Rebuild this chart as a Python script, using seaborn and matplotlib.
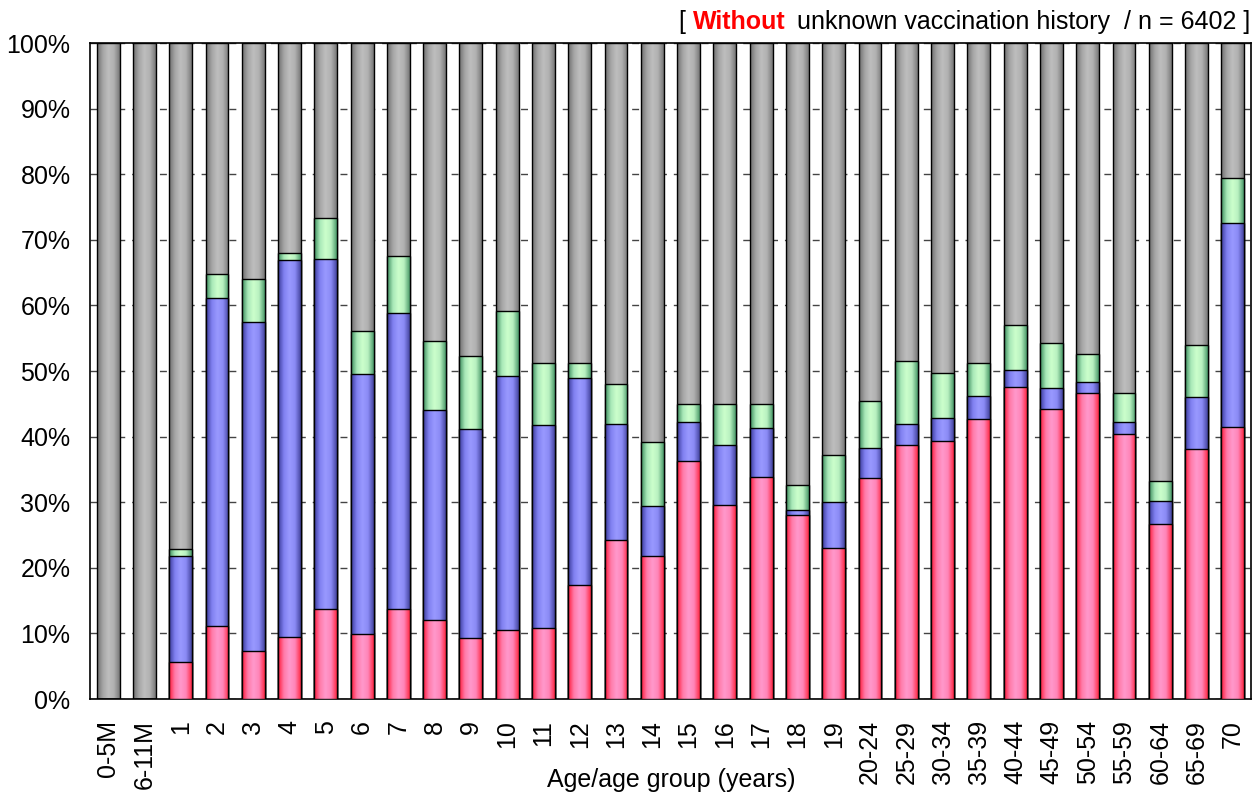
import numpy as np
import pandas as pd
import matplotlib
matplotlib.use("Agg")
import matplotlib.pyplot as plt
from matplotlib.colors import LinearSegmentedColormap
import seaborn as sns

# Age groups and vaccination-history shares (%), bottom to top
ages = ["0-5M", "6-11M", "1", "2", "3", "4", "5", "6", "7", "8", "9", "10",
        "11", "12", "13", "14", "15", "16", "17", "18", "19", "20-24", "25-29",
        "30-34", "35-39", "40-44", "45-49", "50-54", "55-59", "60-64", "65-69", "70"]
red = [0, 0, 5.7, 11.1, 7.3, 9.4, 13.8, 9.9, 13.7, 12.1, 9.3, 10.6,
       10.8, 17.4, 24.3, 21.8, 36.3, 29.6, 33.8, 28.0, 23.0, 33.7, 38.8,
       39.4, 42.7, 47.6, 44.2, 46.7, 40.4, 26.7, 38.1, 41.4]
blue = [0, 0, 16.1, 50.1, 50.2, 57.6, 53.3, 39.6, 45.1, 31.9, 31.9, 38.7,
        31.0, 31.5, 17.6, 7.6, 6.0, 9.2, 7.5, 0.8, 7.1, 4.5, 3.2,
        3.4, 3.5, 2.6, 3.2, 1.7, 1.8, 3.5, 8.0, 31.1]
green = [0, 0, 1.1, 3.6, 6.5, 1.0, 6.3, 6.6, 8.7, 10.6, 11.1, 9.9,
         9.4, 2.4, 6.1, 9.8, 2.7, 6.1, 3.7, 3.8, 7.1, 7.2, 9.6,
         6.9, 5.0, 6.8, 6.9, 4.2, 4.4, 3.0, 7.9, 6.9]

df = pd.DataFrame({"age": ages, "red": red, "blue": blue, "green": green})
df["top_red"] = df["red"]
df["top_blue"] = df["top_red"] + df["blue"]
df["top_green"] = df["top_blue"] + df["green"]
df["top_grey"] = 100.0

sns.set_style("white")
plt.rcParams['font.family'] = ['Liberation Sans', 'DejaVu Sans']
plt.rcParams['text.color'] = 'black'
plt.rcParams['xtick.color'] = 'black'
plt.rcParams['ytick.color'] = 'black'

fig = plt.figure(figsize=(12.53, 7.94), dpi=100)
ax = fig.add_axes([0.0718, 0.1196, 0.9266, 0.8262])

# back to front: (column, flat colour, gradient colours)
layers = [
    ("top_grey", "#b0b0b0", ["#6e6e6e", "#a5a5a5", "#bebebe", "#b0b0b0", "#777777"]),
    ("top_green", "#ccffcc", ["#3a8a5a", "#a8e8b8", "#ccffcc", "#b8f0c0", "#4a9a6a"]),
    ("top_blue", "#9999ff", ["#3a3a9a", "#8080f0", "#9999ff", "#8a8af5", "#44449e"]),
    ("top_red", "#ff8fc0", ["#ff1a3a", "#ff7aa8", "#ff99cc", "#ff85b8", "#ff2a45"]),
]

grad = np.linspace(0, 1, 64).reshape(1, -1)
for i, (col, flat, cols) in enumerate(layers):
    z = 2 + i
    cmap = LinearSegmentedColormap.from_list(col, cols)
    n0 = len(ax.patches)
    sns.barplot(data=df, x="age", y=col, order=ages, color=flat, saturation=1,
                width=0.63, edgecolor="black", linewidth=1.0, errorbar=None, ax=ax)
    for p in ax.patches[n0:]:
        x0, y0, w, h = p.get_x(), p.get_y(), p.get_width(), p.get_height()
        p.set_zorder(z + 0.2)
        if h <= 0:
            continue
        im = ax.imshow(grad, cmap=cmap, aspect="auto", interpolation="bicubic",
                       extent=(x0, x0 + w, y0, y0 + h), zorder=z + 0.1)
        im.set_clip_path(p)
        p.set_facecolor("none")

ax.set_xlim(-0.5, len(ages) - 0.5)
ax.set_ylim(0, 100)
ax.set_aspect("auto")
ax.set_yticks(range(0, 101, 10))
ax.set_yticklabels([f"{v}%" for v in range(0, 101, 10)])
ax.tick_params(axis="y", length=0, pad=14, labelsize=18)
ax.tick_params(axis="x", length=0, pad=15, labelsize=18, labelrotation=90)
ax.set_xlabel("")
ax.set_ylabel("")
ax.yaxis.grid(True, linestyle=(0, (5, 5)), color="#444444", linewidth=1)
ax.set_axisbelow(True)
for s in ax.spines.values():
    s.set_color("black")
    s.set_linewidth(1.2)

fig.text(671 / 1253, 1 - 780 / 794, "Age/age group (years)", ha="center", va="center", fontsize=18)

t3 = fig.text(1250 / 1253, 1 - 22 / 794, "unknown vaccination history  / n = 6402 ]",
              ha="right", va="center", fontsize=18)
t2 = ax.annotate("Without", xy=(0, 0.5), xycoords=t3, xytext=(-11, 0), textcoords="offset pixels",
                 ha="right", va="center", fontsize=18, color="red", fontweight="bold",
                 annotation_clip=False)
ax.annotate("[", xy=(0, 0.5), xycoords=t2, xytext=(-8, 0), textcoords="offset pixels",
            ha="right", va="center", fontsize=18, annotation_clip=False)

fig.savefig("out.png", dpi=100)
